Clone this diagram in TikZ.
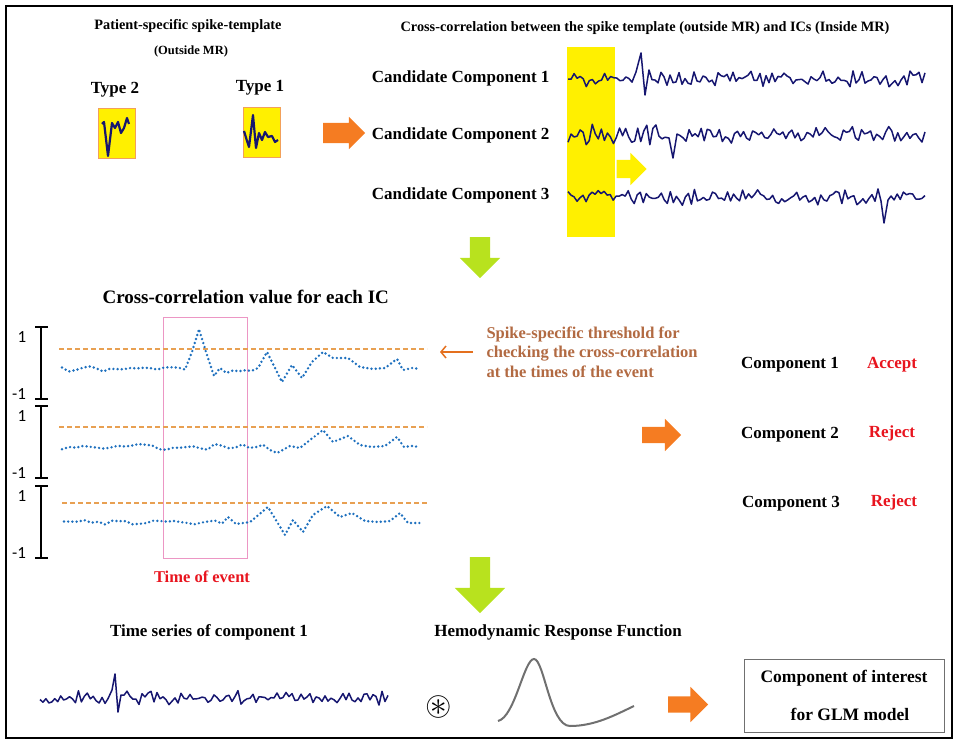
\documentclass[tikz,border=0pt]{standalone}
\usepackage{fontspec}
\usepackage{amssymb}
\setmainfont{Liberation Serif}
\newfontfamily\axisfont{Carlito}
\usetikzlibrary{shapes.arrows,arrows.meta}
\definecolor{eegnavy}{RGB}{22,22,112}
\definecolor{ccblue}{RGB}{30,112,190}
\definecolor{thrline}{RGB}{232,160,82}
\definecolor{thrarrow}{RGB}{228,112,30}
\definecolor{thrtext}{RGB}{178,106,66}
\definecolor{blockorange}{RGB}{245,124,34}
\definecolor{blockgreen}{RGB}{184,226,30}
\definecolor{bandyellow}{RGB}{255,240,0}
\definecolor{tmplborder}{RGB}{242,160,90}
\definecolor{eventpink}{RGB}{236,150,196}
\definecolor{verdict}{RGB}{232,20,30}
\definecolor{hrfgray}{RGB}{112,112,112}

\begin{document}
\begin{tikzpicture}[x=1pt,y=-1pt,
    head/.style={font=\bfseries\fontsize{14.3}{16}\selectfont},
    sub/.style={font=\bfseries\fontsize{12.5}{14}\selectfont},
    big/.style={font=\bfseries\fontsize{17}{20}\selectfont},
    eeg/.style={draw=eegnavy,line width=1.5pt,line join=round},
    ccdots/.style={draw=ccblue,line width=2.7pt,line cap=round,dash pattern=on 0pt off 4.2pt},
    thr/.style={draw=thrline,line width=1.3pt,dash pattern=on 5pt off 3pt},
    ibar/.style={line width=1.2pt},
    axislabel/.style={font=\axisfont\fontsize{17}{19}\selectfont},
    tmpl/.style={draw=tmplborder,fill=bandyellow,line width=1pt,minimum width=37pt,minimum height=50pt,inner sep=0pt},
    blockarrow/.style={single arrow,draw=none,single arrow head indent=0pt},
  ]
  \useasboundingbox (0,0) rectangle (957,743);
  \draw[line width=2.5pt] (6,6) rectangle (952,738);
  \pgfmathsetseed{11}

  % spike templates (outside MR)
  \node[head] (tmpltitle) at (188,26) {Patient-specific spike-template};
  \node[sub] (tmplsub) at (191,51) {(Outside MR)};
  \node[big] (type2) at (115,90) {Type 2};
  \node[big] (type1) at (260,88) {Type 1};
  \node[tmpl] (tmplB) at (116.5,134) {};
  \node[tmpl] (tmplA) at (262,133) {};
  \draw[eeg,line width=2.2pt] (102,124) -- (104,122) -- (108,156) -- (112,123) -- (115,128) -- (118,122)
    -- (121,133) -- (124,128) -- (127,118) -- (129,124);
  \draw[eeg,line width=2.2pt] (244,131) -- (247,141) -- (249,147) -- (253,115) -- (256,148) -- (259,133)
    -- (262,140) -- (265,132) -- (268,137) -- (272,136) -- (275,142) -- (278,140);
  \node[blockarrow,fill=blockorange,minimum height=42pt,inner xsep=0pt,inner ysep=10pt,single arrow head extend=6pt] (arrtop) at (339,133) {};

  % candidate components (inside MR)
  \node[head] (xctitle) at (645,28) {Cross-correlation between the spike template (outside MR) and ICs (Inside MR)};
  \fill[bandyellow] (567,47) rectangle (615,237);
  \node[big,anchor=east] (cand1) at (553,78) {Candidate Component 1};
  \node[big,anchor=east] (cand2) at (553,135) {Candidate Component 2};
  \node[big,anchor=east] (cand3) at (553,195) {Candidate Component 3};
  \draw[eeg] plot[domain=568:632,samples=22] (\x,{79+6*rand+3*sin(45*mod(\x,8))})
    -- (636,72) -- (641,53) -- (645,95) -- (649,70)
    -- plot[domain=652:925,samples=92] (\x,{79+6*rand+3*sin(45*mod(\x,8))});
  \draw[eeg] plot[domain=568:665,samples=33] (\x,{135+7*rand+5*sin(40*mod(\x,9))})
    -- (669,138) -- (673,158) -- (677,134)
    -- plot[domain=680:925,samples=82] (\x,{135+6*rand+3*sin(40*mod(\x,9))});
  \draw[eeg] plot[domain=568:878,samples=104] (\x,{197+6*rand+3*sin(45*mod(\x,8))})
    -- (881,201) -- (884,223) -- (888,200)
    -- plot[domain=891:925,samples=12] (\x,{197+6*rand+3*sin(45*mod(\x,8))});
  \node[blockarrow,fill=bandyellow,minimum height=30pt,inner xsep=0pt,inner ysep=9pt,single arrow head extend=7pt] (arrshift) at (627,169) {};
  \node[blockarrow,fill=blockgreen,minimum height=41pt,inner ysep=0pt,inner xsep=10pt,single arrow head extend=10pt,shape border rotate=270] (arrdown1) at (480,252.5) {};

  % cross-correlation values
  \node[font=\bfseries\fontsize{19}{22}\selectfont,anchor=west] (cctitle) at (99,297) {Cross-correlation value for each IC};
  \draw[eventpink,line width=0.9pt] (163,317) rectangle (247,558);
  \node[font=\bfseries\fontsize{16.5}{19}\selectfont,text=verdict] (event) at (202,577) {Time of event};
  \foreach \hi/\lo in {327/399,406/478,486/558} {
    \draw[ibar] (41,\hi) -- (41,\lo);
    \draw[ibar] (35,\hi) -- (48,\hi);
    \draw[ibar] (35,\lo) -- (48,\lo);
    \node[axislabel] at (22,\hi+10) {1};
    \node[axislabel] at (19,\lo-5) {-1};
  }
  \draw[thr] (59,349) -- (427,349);
  \draw[thr] (59,427) -- (427,427);
  \draw[thr] (62,503) -- (428,503);
  \draw[ccdots] plot[domain=62:185,samples=19] (\x,{369+3*rand})
    -- (192,352) -- (199,329) -- (206,352) -- (214,376)
    -- plot[domain=220:258,samples=7] (\x,{371+3*rand})
    -- (267,352) -- (282,382) -- (292,365) -- (302,378) -- (312,362) -- (323,352)
    -- (333,358) -- (348,358) -- (360,367) -- (373,369) -- (385,368) -- (397,359)
    -- (403,370) -- (412,368) -- (420,369);
  \draw[ccdots] plot[domain=62:270,samples=31] (\x,{447+3*rand})
    -- (277,453) -- (290,446) -- (300,448) -- (310,440) -- (323,430) -- (333,442)
    -- (348,436) -- (360,445) -- (372,447) -- (385,446) -- (397,437) -- (404,447)
    -- (412,446) -- (420,447);
  \draw[ccdots] plot[domain=64:222,samples=24] (\x,{523+3*rand})
    -- (228,517) -- (236,524) -- (250,522) -- (268,507) -- (285,535) -- (293,520)
    -- (303,532) -- (313,515) -- (327,506) -- (340,517) -- (352,513) -- (365,521)
    -- (378,522) -- (390,521) -- (400,513) -- (408,523) -- (422,523);
  \node[font=\bfseries\fontsize{16.5}{19.5}\selectfont,text=thrtext,align=left,anchor=west] (thrnote) at (483,352)
    {Spike-specific threshold for\\checking the cross-correlation\\at the times of the event};
  \coordinate (thrtip) at ([xshift=-43pt]thrnote.west);
  \draw[thrarrow,line width=1.5pt,-{Straight Barb[length=5pt,width=12pt]}] ([xshift=-10pt]thrnote.west) -- (thrtip);
  \node[blockarrow,fill=blockorange,minimum height=39pt,inner xsep=0pt,inner ysep=8pt,single arrow head extend=8pt] (arrmid) at (657.5,435) {};

  % verdicts
  \node[big] (comp1) at (790,365) {Component 1};
  \node[big] (comp2) at (790,435) {Component 2};
  \node[big] (comp3) at (791,504) {Component 3};
  \node[big,text=verdict] (verd1) at (892,365) {Accept};
  \node[big,text=verdict] (verd2) at (892,433) {Reject};
  \node[big,text=verdict] (verd3) at (894,502) {Reject};
  \node[blockarrow,fill=blockgreen,minimum height=56pt,inner ysep=0pt,inner xsep=10pt,single arrow head extend=15pt,shape border rotate=270] (arrdown2) at (480,580) {};

  % convolution with the HRF
  \node[big] (tstitle) at (209,632) {Time series of component 1};
  \node[big] (hrftitle) at (558,632) {Hemodynamic Response Function};
  \draw[eeg] plot[domain=40:108,samples=24] (\x,{698+5*rand+3*sin(45*mod(\x,8))})
    -- (112,690) -- (115,674) -- (118,712) -- (121,695)
    -- plot[domain=124:388,samples=89] (\x,{698+5*rand+3*sin(45*mod(\x,8))});
  \node (conv) at (439,707) {\fontsize{34}{34}\selectfont$\circledast$};
  \draw[hrfgray,line width=2pt] (498,721) .. controls (515,717) and (524,659) .. (534,659)
    .. controls (544,659) and (550,726) .. (570,726) .. controls (595,726) and (615,715) .. (634,706);
  \node[blockarrow,fill=blockorange,minimum height=40pt,inner xsep=0pt,inner ysep=8pt,single arrow head extend=9.5pt] (arrbot) at (684,704.5) {};
  \node[draw=hrfgray,line width=1pt,minimum width=200pt,minimum height=73pt,align=center,font=\bfseries\fontsize{17.5}{38}\selectfont] (glm) at (844,695.5)
    {Component of interest\\\hspace*{12pt}for GLM model};
\end{tikzpicture}
\end{document}
